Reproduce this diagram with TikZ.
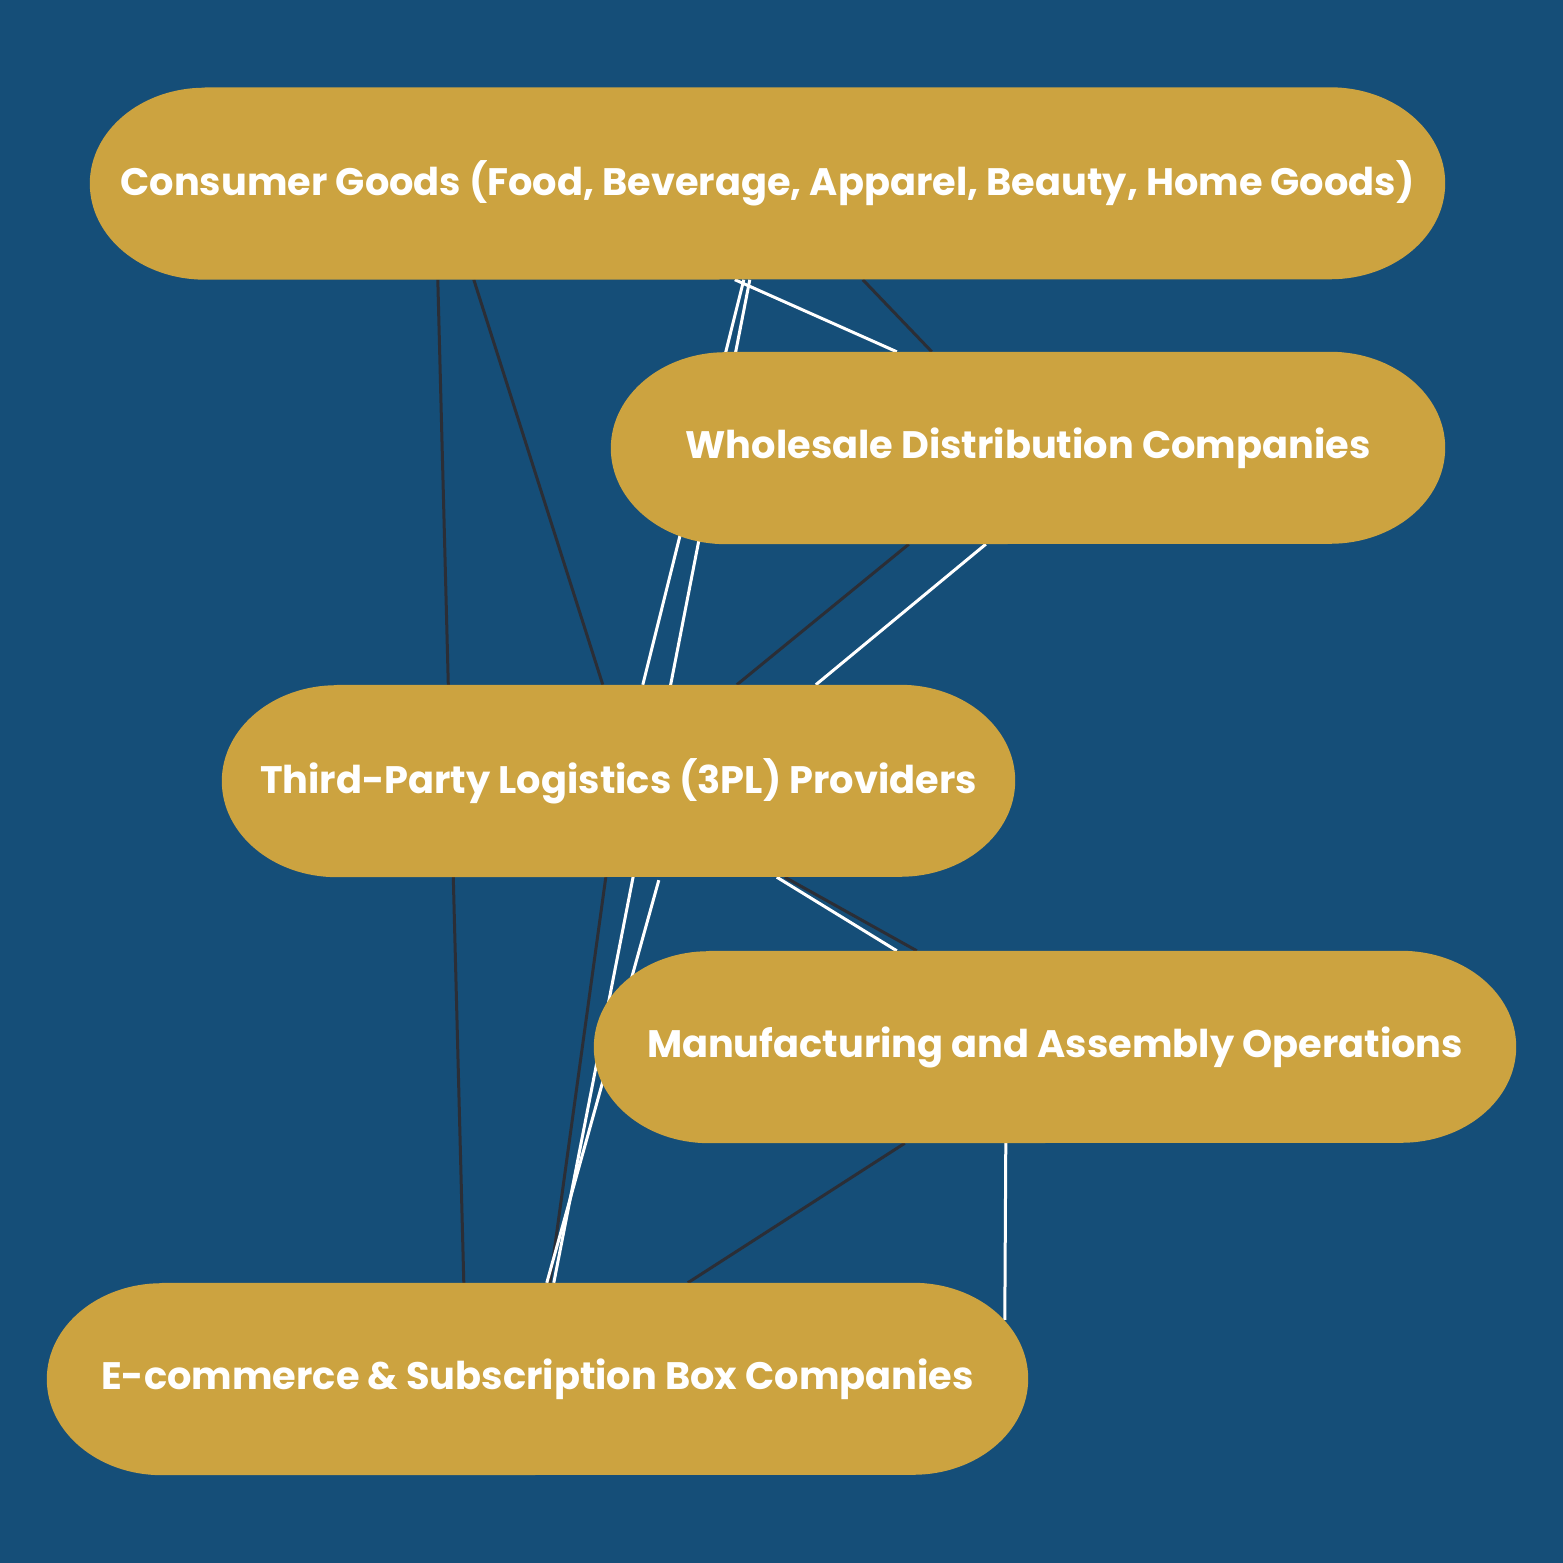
\documentclass[tikz,border=0pt]{standalone}
\usepackage{fontspec}
\setmainfont{Poppins}
\usetikzlibrary{calc}
\definecolor{bgblue}{HTML}{154E78}
\definecolor{pillgold}{HTML}{CCA340}
\definecolor{darkline}{HTML}{2B2E36}
\pgfdeclarelayer{edges}
\pgfdeclarelayer{pills}
\pgfsetlayers{edges,pills,main}
\tikzset{
  pilltext/.style={rectangle, inner sep=0pt, minimum height=192pt, text=white,
    font=\bfseries\fontsize{38.3}{42}\selectfont},
  darkedge/.style={draw=darkline, line width=3pt},
  lightedge/.style={draw=white, line width=3pt},
}
\newcommand\pillfill[1]{\fill[pillgold] ($(#1.north west)+(115pt,0)$) -- ($(#1.north east)+(-115pt,0)$)
  arc[start angle=90,end angle=-90,x radius=115pt,y radius=96pt]
  -- ($(#1.south west)+(115pt,0)$)
  arc[start angle=270,end angle=90,x radius=115pt,y radius=96pt] -- cycle;}
\begin{document}
\begin{tikzpicture}[x=1pt,y=1pt]
\useasboundingbox (0,0) rectangle (1563,1563);
\node[pilltext, minimum width=1355pt] (cg) at (767.5,1379.5) {Consumer Goods (Food, Beverage, Apparel, Beauty, Home Goods)};
\node[pilltext, minimum width=834pt] (wh) at (1028,1115) {Wholesale Distribution Companies};
\node[pilltext, minimum width=793pt] (tpl) at (618.5,782) {Third-Party Logistics (3PL) Providers};
\node[pilltext, minimum width=922pt] (mf) at (1055,516) {Manufacturing and Assembly Operations};
\node[pilltext, minimum width=981pt] (ec) at (537.5,184) {E-commerce \& Subscription Box Companies};
\begin{pgfonlayer}{edges}
\fill[bgblue] (0,0) rectangle (1563,1563);
% dark connectors
\draw[darkedge] ($(cg.south west)+(348,0)$) -- ($(ec.north west)+(417,0)$);
\draw[darkedge] ($(cg.south west)+(384,0)$) -- ($(tpl.north west)+(381,0)$);
\draw[darkedge] ($(cg.south west)+(773,0)$) -- ($(wh.north west)+(321,0)$);
\draw[darkedge] ($(wh.south west)+(298,0)$) -- ($(tpl.north west)+(515,0)$);
\draw[darkedge] ($(tpl.south west)+(384,0)$) -- ($(ec.north west)+(503,0)$);
\draw[darkedge] ($(tpl.south west)+(563,0)$) -- ($(mf.north west)+(323,0)$);
\draw[darkedge] ($(mf.south west)+(311,0)$) -- ($(ec.north west)+(641,0)$);
% white connectors
\draw[lightedge] ($(cg.south west)+(645,0)$) -- ($(wh.north west)+(286,0)$);
\draw[lightedge] ($(cg.south west)+(654,0)$) -- ($(tpl.north west)+(421,0)$);
\draw[lightedge] ($(cg.south west)+(660,0)$) -- ($(ec.north west)+(507,0)$);
\draw[lightedge] ($(wh.south west)+(375,0)$) -- ($(tpl.north west)+(594,0)$);
\draw[lightedge] ($(tpl.south west)+(437,-3)$) -- ($(ec.north west)+(500,0)$);
\draw[lightedge] ($(tpl.south west)+(555,0)$) -- ($(mf.north west)+(303,0)$);
\draw[lightedge] ($(mf.south west)+(412,0)$) -- ($(ec.north west)+(958,-37)$);
\end{pgfonlayer}
\begin{pgfonlayer}{pills}
\pillfill{cg}
\pillfill{wh}
\pillfill{tpl}
\pillfill{mf}
\pillfill{ec}
\end{pgfonlayer}
\end{tikzpicture}
\end{document}
